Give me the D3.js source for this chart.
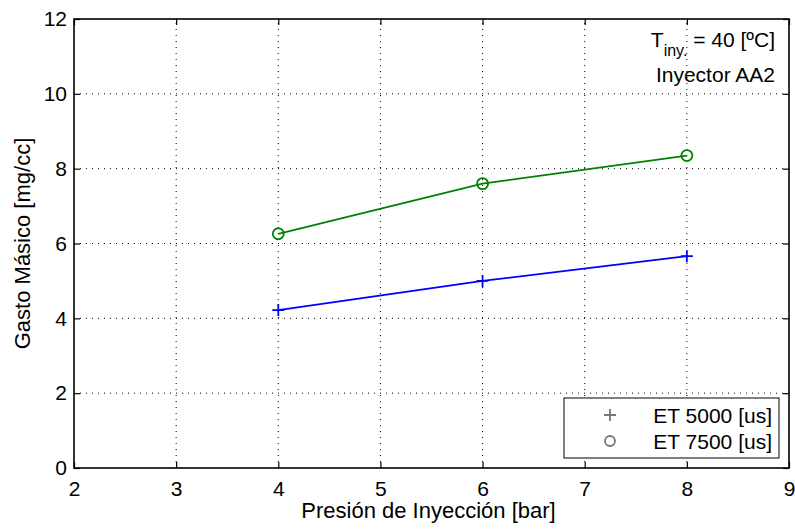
<!DOCTYPE html>
<html>
<head>
<meta charset="utf-8">
<script src="https://cdn.jsdelivr.net/npm/d3@7"></script>
<style>
  body { margin: 0; background: #fff; }
  svg { font-family: "Liberation Sans", Arial, sans-serif; }
</style>
</head>
<body>
<svg id="chart" width="795" height="529"></svg>
<script>
// data
const presion = [4, 6, 8];
const et5000 = [4.22, 5.0, 5.66];
const et7500 = [6.26, 7.6, 8.35];
const xTicks = [2, 3, 4, 5, 6, 7, 8, 9];
const yTicks = [0, 2, 4, 6, 8, 10, 12];

const margin = { top: 19, right: 6, bottom: 61, left: 74 };
const width = 795;
const height = 529;
const fs = 21;

const svg = d3.select("#chart");

const x = d3.scaleLinear().domain([2, 9]).range([margin.left, width - margin.right]);
const y = d3.scaleLinear().domain([0, 12]).range([height - margin.bottom, margin.top]);

// grid (dotted)
const grid = svg.append("g").attr("stroke", "#000").attr("stroke-width", 1).attr("stroke-dasharray", "1,5");
grid.selectAll(".gx").data(xTicks.slice(1, -1)).join("line")
  .attr("x1", d => x(d)).attr("x2", d => x(d))
  .attr("y1", y(0)).attr("y2", y(12));
grid.selectAll(".gy").data(yTicks.slice(1, -1)).join("line")
  .attr("x1", x(2)).attr("x2", x(9))
  .attr("y1", d => y(d)).attr("y2", d => y(d));

// axes, ticks inside
const tickLen = 6;
svg.append("g")
  .attr("transform", `translate(0,${y(0)})`)
  .call(d3.axisBottom(x).tickValues(xTicks).tickFormat(d3.format("d")).tickSizeInner(-tickLen).tickSizeOuter(0).tickPadding(13))
  .call(g => g.select(".domain").remove());
svg.append("g")
  .attr("transform", `translate(${x(2)},0)`)
  .call(d3.axisLeft(y).tickValues(yTicks).tickFormat(d3.format("d")).tickSizeInner(-tickLen).tickSizeOuter(0).tickPadding(7))
  .call(g => g.select(".domain").remove());
svg.append("g")
  .attr("transform", `translate(0,${y(12)})`)
  .call(d3.axisTop(x).tickValues(xTicks).tickSizeInner(-tickLen).tickSizeOuter(0).tickFormat(""))
  .call(g => g.select(".domain").remove());
svg.append("g")
  .attr("transform", `translate(${x(9)},0)`)
  .call(d3.axisRight(y).tickValues(yTicks).tickSizeInner(-tickLen).tickSizeOuter(0).tickFormat(""))
  .call(g => g.select(".domain").remove());

svg.selectAll(".tick line").attr("stroke", "#000").attr("stroke-width", 1.2);
svg.selectAll(".tick text").attr("font-size", fs).attr("fill", "#000")
  .attr("font-family", "Liberation Sans, Arial, sans-serif");

// frame
svg.append("rect")
  .attr("x", x(2)).attr("y", y(12))
  .attr("width", x(9) - x(2)).attr("height", y(0) - y(12))
  .attr("fill", "none").attr("stroke", "#000").attr("stroke-width", 1.6);

// series
const line = d3.line().x(d => x(d[0])).y(d => y(d[1]));
const s1 = presion.map((p, i) => [p, et5000[i]]);
const s2 = presion.map((p, i) => [p, et7500[i]]);

svg.append("path").datum(s1).attr("d", line)
  .attr("fill", "none").attr("stroke", "#0000ff").attr("stroke-width", 1.8);
svg.append("g").selectAll("path").data(s1).join("path")
  .attr("d", d => `M${x(d[0]) - 6},${y(d[1])}h12M${x(d[0])},${y(d[1]) - 6}v12`)
  .attr("stroke", "#0000ff").attr("stroke-width", 1.8);

svg.append("path").datum(s2).attr("d", line)
  .attr("fill", "none").attr("stroke", "#008000").attr("stroke-width", 1.8);
svg.append("g").selectAll("circle").data(s2).join("circle")
  .attr("cx", d => x(d[0])).attr("cy", d => y(d[1])).attr("r", 5.5)
  .attr("fill", "none").attr("stroke", "#008000").attr("stroke-width", 1.8);

// axis labels
svg.append("text")
  .attr("x", (x(2) + x(9)) / 2 - 3).attr("y", 518)
  .attr("text-anchor", "middle").attr("font-size", 22)
  .text("Presión de Inyección [bar]");
svg.append("text")
  .attr("transform", `translate(30,${(y(0) + y(12)) / 2}) rotate(-90)`)
  .attr("text-anchor", "middle").attr("font-size", 22)
  .text("Gasto Másico [mg/cc]");

// annotation
const ann = svg.append("text").attr("x", 775).attr("y", 47)
  .attr("text-anchor", "end").attr("font-size", fs);
ann.append("tspan").text("T");
ann.append("tspan").attr("dy", 9).attr("font-size", 16).text("iny.");
ann.append("tspan").attr("dy", -9).text(" = 40 [ºC]");
svg.append("text").attr("x", 775).attr("y", 82)
  .attr("text-anchor", "end").attr("font-size", fs).text("Inyector AA2");

// legend
const legend = svg.append("g");
legend.append("rect")
  .attr("x", 564).attr("y", 398).attr("width", 215).attr("height", 60)
  .attr("fill", "#fff").attr("stroke", "#000").attr("stroke-width", 1);
const legItems = [
  { label: "ET 5000 [us]", mark: "plus" },
  { label: "ET 7500 [us]", mark: "circle" }
];
legItems.forEach((d, i) => {
  const cy = 415 + i * 26;
  if (d.mark === "plus") {
    legend.append("path").attr("d", `M604,${cy}h12M610,${cy - 6}v12`)
      .attr("stroke", "#777").attr("stroke-width", 1.8);
  } else {
    legend.append("circle").attr("cx", 610).attr("cy", cy).attr("r", 5)
      .attr("fill", "none").attr("stroke", "#777").attr("stroke-width", 1.8);
  }
  legend.append("text").attr("x", 772).attr("y", cy + 8)
    .attr("text-anchor", "end").attr("font-size", fs).text(d.label);
});
</script>
</body>
</html>
